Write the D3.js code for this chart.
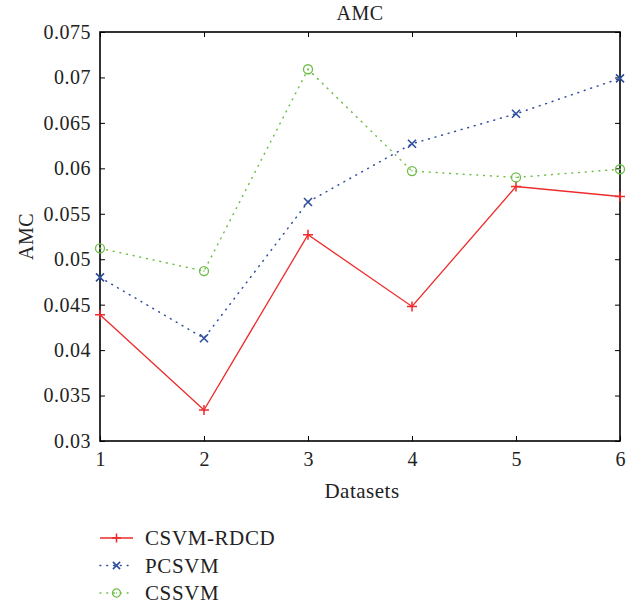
<!DOCTYPE html>
<html>
<head>
<meta charset="utf-8">
<script src="https://cdn.jsdelivr.net/npm/d3@7"></script>
<style>
  body { margin: 0; background: #fff; }
  text { font-family: "Liberation Serif", "DejaVu Serif", serif; fill: #222; }
</style>
</head>
<body>
<div id="chart"></div>
<script>
// data
const datasets = [1, 2, 3, 4, 5, 6];
const csvmRdcd = [0.0439, 0.0334, 0.0527, 0.0448, 0.0580, 0.0569];
const pcsvm    = [0.0480, 0.0413, 0.0563, 0.0627, 0.0660, 0.0699];
const cssvm    = [0.0512, 0.0487, 0.0709, 0.0597, 0.0590, 0.0599];
const yTicks = [0.03, 0.035, 0.04, 0.045, 0.05, 0.055, 0.06, 0.065, 0.07, 0.075];
const yTickLabels = ["0.03", "0.035", "0.04", "0.045", "0.05", "0.055", "0.06", "0.065", "0.07", "0.075"];

const series = [
  { name: "CSVM-RDCD", values: csvmRdcd, color: "#ee2a2a", dash: null, marker: "plus" },
  { name: "PCSVM", values: pcsvm, color: "#2e4d9f", dash: "0.8,6", marker: "cross" },
  { name: "CSSVM", values: cssvm, color: "#6cbd45", dash: "0.8,6", marker: "circle" }
];

const W = 639, H = 607;
const margin = { top: 32, right: 19, bottom: 166, left: 100 };
const width = W - margin.left - margin.right;
const height = H - margin.top - margin.bottom;

const svg = d3.select("#chart").append("svg")
  .attr("width", W).attr("height", H);
const g = svg.append("g").attr("transform", `translate(${margin.left},${margin.top})`);

const x = d3.scaleLinear().domain([1, 6]).range([0, width]);
const y = d3.scaleLinear().domain([0.03, 0.075]).range([height, 0]);

// axes, ticks inward on all four sides
const tickLen = 5;
const xAxis = g.append("g").attr("transform", `translate(0,${height})`)
  .call(d3.axisBottom(x).tickValues(datasets).tickFormat(d3.format("d")).tickSizeInner(-tickLen).tickSizeOuter(0).tickPadding(11));
const yAxis = g.append("g")
  .call(d3.axisLeft(y).tickValues(yTicks).tickFormat((d, i) => yTickLabels[i]).tickSizeInner(-tickLen).tickSizeOuter(0).tickPadding(9));
g.append("g")
  .call(d3.axisTop(x).tickValues(datasets).tickFormat("").tickSizeInner(-tickLen).tickSizeOuter(0));
g.append("g").attr("transform", `translate(${width},0)`)
  .call(d3.axisRight(y).tickValues(yTicks).tickFormat("").tickSizeInner(-tickLen).tickSizeOuter(0));

g.selectAll(".domain").remove();
g.selectAll(".tick line").attr("stroke", "#000").attr("stroke-width", 1);
xAxis.selectAll("text").style("font-size", "20px").attr("fill", "#222");
yAxis.selectAll("text").style("font-size", "20px").style("letter-spacing", "0.5px").attr("fill", "#222");

g.append("rect")
  .attr("x", 0).attr("y", 0).attr("width", width).attr("height", height)
  .attr("fill", "none").attr("stroke", "#000").attr("stroke-width", 1.6);

// lines
const line = d3.line()
  .x((d, i) => x(datasets[i]))
  .y(d => y(d));

function drawMarker(sel, type, color, size) {
  if (type === "plus") {
    sel.append("path").attr("d", `M${-size},0H${size}M0,${-size}V${size}`)
      .attr("stroke", color).attr("stroke-width", 1.5).attr("fill", "none");
  } else if (type === "cross") {
    const s = size * 0.8;
    sel.append("path").attr("d", `M${-s},${-s}L${s},${s}M${-s},${s}L${s},${-s}`)
      .attr("stroke", color).attr("stroke-width", 1.6).attr("fill", "none");
  } else {
    sel.append("circle").attr("r", size * 0.9)
      .attr("stroke", color).attr("stroke-width", 1.3).attr("fill", "none");
    sel.append("circle").attr("r", 0.7).attr("fill", color);
  }
}

series.forEach(s => {
  g.append("path")
    .datum(s.values)
    .attr("fill", "none")
    .attr("stroke", s.color)
    .attr("stroke-width", s.dash ? 1.5 : 1.3)
    .attr("stroke-dasharray", s.dash)
    .attr("stroke-linecap", s.dash ? "round" : "butt")
    .attr("d", line);

  g.selectAll(null)
    .data(s.values)
    .join("g")
    .attr("transform", (d, i) => `translate(${x(datasets[i])},${y(d)})`)
    .each(function() { drawMarker(d3.select(this), s.marker, s.color, 5); });
});

// titles
svg.append("text")
  .attr("x", 360).attr("y", 20)
  .attr("text-anchor", "middle").style("font-size", "20px").style("letter-spacing", "0.5px")
  .text("AMC");

svg.append("text")
  .attr("x", margin.left + width / 2 + 2).attr("y", 498)
  .attr("text-anchor", "middle").style("font-size", "21px").style("letter-spacing", "0.5px")
  .text("Datasets");

svg.append("text")
  .attr("transform", `translate(33,${margin.top + height / 2})rotate(-90)`)
  .attr("text-anchor", "middle").style("font-size", "20px").style("letter-spacing", "0.5px")
  .text("AMC");

// legend
const legend = svg.append("g").attr("transform", "translate(100,538)");
series.forEach((s, i) => {
  const row = legend.append("g").attr("transform", `translate(0,${i * 27.5})`);
  row.append("line")
    .attr("x1", 0).attr("x2", 33).attr("y1", 0).attr("y2", 0)
    .attr("stroke", s.color)
    .attr("stroke-width", s.dash ? 1.5 : 1.3)
    .attr("stroke-dasharray", s.dash)
    .attr("stroke-linecap", s.dash ? "round" : "butt");
  const m = row.append("g").attr("transform", "translate(16.5,0)");
  drawMarker(m, s.marker, s.color, 4.5);
  row.append("text")
    .attr("x", 45).attr("y", 0).attr("dy", "0.35em")
    .style("font-size", "21px").style("letter-spacing", "0.6px")
    .text(s.name);
});
</script>
</body>
</html>
